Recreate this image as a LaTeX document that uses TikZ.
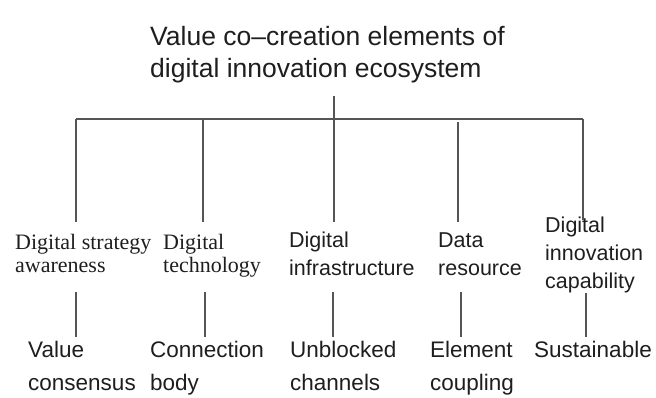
\documentclass[tikz,border=0pt]{standalone}
\usepackage{fontspec}
\setmainfont{Liberation Serif}
\setsansfont{Liberation Sans}
\usepackage{tikz}

\definecolor{linegray}{HTML}{555555}
\definecolor{inkgray}{HTML}{1E1E1E}

\tikzset{
  link/.style={draw=linegray, line width=1.8pt},
  headtext/.style={anchor=base west, inner sep=0pt, align=left, text=inkgray,
    font=\sffamily\fontsize{26.5}{32}\selectfont},
  elemtext/.style={anchor=base west, inner sep=0pt, align=left, text=inkgray,
    font=\sffamily\fontsize{21.5}{28}\selectfont},
  serifelem/.style={anchor=base west, inner sep=0pt, align=left, text=inkgray,
    font=\rmfamily\fontsize{22}{23}\selectfont},
  valuetext/.style={anchor=base west, inner sep=0pt, align=left, text=inkgray,
    font=\sffamily\fontsize{22.5}{33}\selectfont}
}

\begin{document}
\begin{tikzpicture}[x=1pt,y=-1pt]
  \useasboundingbox (0,0) rectangle (656,397);

  % Root (base anchor sits on the last line)
  \node[headtext] (root) at (150,77) {Value co--creation elements of\\digital innovation ecosystem};

  % Elements
  \node[serifelem] (strategy) at (15,272) {Digital strategy\\awareness};
  \node[serifelem] (technology) at (163,272) {Digital\\technology};
  \node[elemtext] (infra) at (289,275) {Digital\\infrastructure};
  \node[elemtext] (data) at (438,275) {Data\\resource};
  \node[elemtext] (capability) at (545,288) {Digital\\innovation\\capability};

  % Values
  \node[valuetext] (consensus) at (28,390) {Value\\consensus};
  \node[valuetext] (body) at (150,390) {Connection\\body};
  \node[valuetext] (channels) at (290,390) {Unblocked\\channels};
  \node[valuetext] (coupling) at (430,390) {Element\\coupling};
  \node[valuetext] (sustain) at (534,357) {Sustainable};

  % Bar and branch ends
  \coordinate (stem) at (334,96);
  \coordinate (hub) at (334,119);
  \coordinate (b1) at (76,119);
  \coordinate (b2) at (203,119);
  \coordinate (b4) at (458,122);
  \coordinate (b5) at (583,119);
  \coordinate (e1) at (76,222);
  \coordinate (e2) at (203,222);
  \coordinate (e3) at (334,222);
  \coordinate (e4) at (458,222);
  \coordinate (e5) at (583,220);

  % Links from elements down to values
  \coordinate (u1) at (76,292);
  \coordinate (v1) at (76,337);
  \coordinate (u2) at (205,292);
  \coordinate (v2) at (205,337);
  \coordinate (u3) at (333,292);
  \coordinate (v3) at (333,337);
  \coordinate (u4) at (461,292);
  \coordinate (v4) at (461,337);
  \coordinate (u5) at (586,293);
  \coordinate (v5) at (586,337);

  \draw[link] (stem) -- (hub);
  \draw[link] (b1) -- (b5);
  \draw[link] (b1) -- (e1);
  \draw[link] (b2) -- (e2);
  \draw[link] (hub) -- (e3);
  \draw[link] (b4) -- (e4);
  \draw[link] (b5) -- (e5);

  \draw[link] (u1) -- (v1);
  \draw[link] (u2) -- (v2);
  \draw[link] (u3) -- (v3);
  \draw[link] (u4) -- (v4);
  \draw[link] (u5) -- (v5);
\end{tikzpicture}
\end{document}
